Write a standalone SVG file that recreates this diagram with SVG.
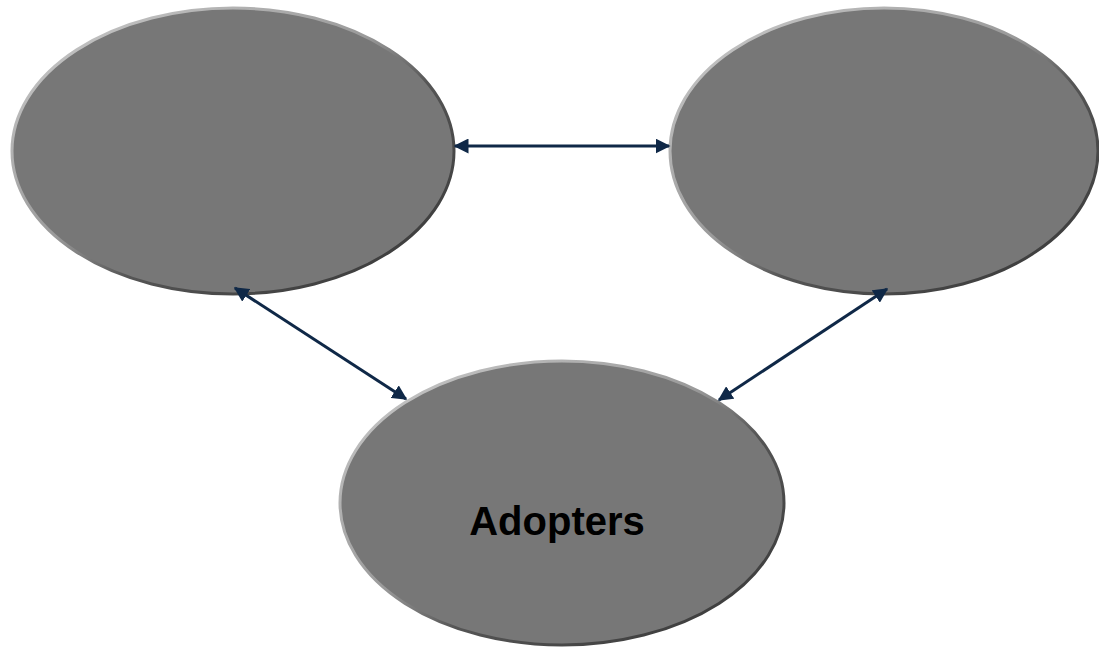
<svg xmlns="http://www.w3.org/2000/svg" width="1099" height="647" viewBox="0 0 1099 647">
<defs>
<linearGradient id="rim" x1="0" y1="0" x2="1" y2="1">
<stop offset="0" stop-color="#cfcfcf"/>
<stop offset="0.45" stop-color="#9a9a9a"/>
<stop offset="0.6" stop-color="#555"/>
<stop offset="1" stop-color="#333"/>
</linearGradient>
<marker id="ah" viewBox="0 0 10 10" refX="9" refY="5" markerWidth="5" markerHeight="5" orient="auto-start-reverse" markerUnits="strokeWidth">
<path d="M0,0 L10,5 L0,10 Z" fill="#0f2847"/>
</marker>
<style>
.node{fill:#777777;stroke:url(#rim);stroke-width:3}
.lbl{font-family:"Liberation Sans",Arial,sans-serif;font-weight:bold;font-size:40px;fill:#000;text-anchor:middle}
.conn{stroke:#0f2847;stroke-width:3;fill:none;marker-start:url(#ah);marker-end:url(#ah)}
</style>
</defs>
<g id="node-left"><ellipse class="node" cx="233" cy="151" rx="221" ry="143"/></g>
<g id="node-right"><ellipse class="node" cx="884" cy="151" rx="214" ry="143"/></g>
<g id="node-adopters"><ellipse class="node" cx="562" cy="503" rx="222" ry="142"/><text class="lbl" x="557" y="535">Adopters</text></g>
<g id="connectors">
<line class="conn" x1="455" y1="146" x2="669" y2="146"/>
<line class="conn" x1="235" y1="288" x2="406" y2="399"/>
<line class="conn" x1="887" y1="289" x2="719" y2="400"/>
</g>
</svg>
